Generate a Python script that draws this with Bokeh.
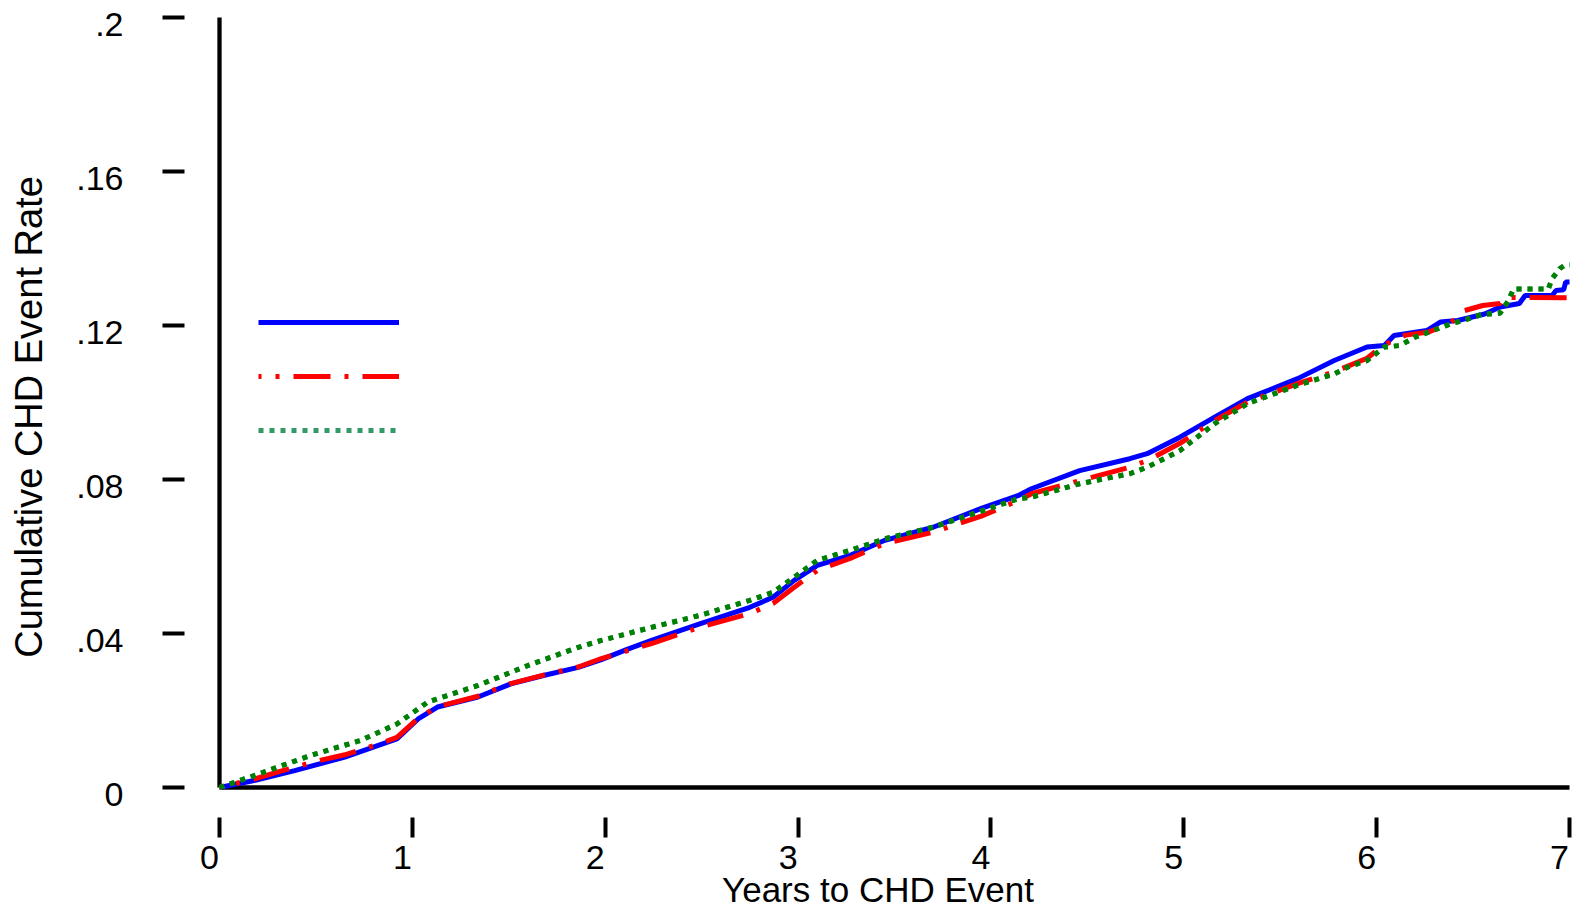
from bokeh.plotting import figure
from bokeh.models import (Range1d, LinearAxis, FixedTicker, CustomJSTickFormatter,
                          Legend, LegendItem)
from bokeh.embed import file_html
from bokeh.resources import INLINE

# ---------------- data ----------------
x_ticks = [0, 1, 2, 3, 4, 5, 6, 7]
x_labels = ["0", "1", "2", "3", "4", "5", "6", "7"]
y_ticks = [0, 0.04, 0.08, 0.12, 0.16, 0.2]
y_labels = ["0", ".04", ".08", ".12", ".16", ".2"]
x_title = "Years to CHD Event"
y_title = "Cumulative CHD Event Rate"

blue_t = [0, 0.18, 0.39, 0.65, 0.82, 0.92, 1.03, 1.13, 1.34, 1.51, 1.68, 1.86, 1.98,
          2.11, 2.24, 2.49, 2.75, 2.87, 2.98, 3.10, 3.27, 3.45, 3.70, 3.95, 4.14, 4.21,
          4.46, 4.72, 4.81, 4.98, 5.16, 5.33, 5.59, 5.78, 5.95, 6.04, 6.09, 6.26, 6.33,
          6.42, 6.56, 6.64, 6.74, 6.77, 6.91, 6.93, 6.97, 6.98, 7.0]
blue_v = [0, 0.0018, 0.0044, 0.0079, 0.0109, 0.0126, 0.0178, 0.0209, 0.0235, 0.0269,
          0.0291, 0.0312, 0.0332, 0.0358, 0.0382, 0.0425, 0.0468, 0.0494, 0.0538, 0.0577,
          0.0603, 0.0642, 0.0676, 0.0725, 0.0758, 0.0776, 0.0823, 0.0854, 0.0867, 0.0910,
          0.0962, 0.1010, 0.1062, 0.1109, 0.1144, 0.1148, 0.1174, 0.1187, 0.1209, 0.1213,
          0.1230, 0.1248, 0.1257, 0.1278, 0.1278, 0.1291, 0.1293, 0.1313, 0.1313]

red_t = [0, 0.18, 0.30, 0.50, 0.65, 0.82, 0.92, 1.03, 1.13, 1.34, 1.51, 1.68, 1.86, 1.98,
         2.24, 2.49, 2.75, 2.87, 2.98, 3.10, 3.27, 3.45, 3.70, 3.95, 4.14, 4.21, 4.46,
         4.72, 4.81, 4.98, 5.16, 5.33, 5.59, 5.78, 5.95, 6.04, 6.15, 6.27, 6.38, 6.42,
         6.45, 6.55, 6.64, 6.66, 7.0]
red_v = [0, 0.0022, 0.0040, 0.0068, 0.0085, 0.0112, 0.0130, 0.0180, 0.0210, 0.0237,
         0.0270, 0.0292, 0.0313, 0.0335, 0.0374, 0.0416, 0.0452, 0.0478, 0.0520, 0.0564,
         0.0595, 0.0634, 0.0663, 0.0705, 0.0745, 0.0763, 0.0797, 0.0832, 0.0849, 0.0894,
         0.0953, 0.1001, 0.1049, 0.1080, 0.1115, 0.1150, 0.1175, 0.1183, 0.1205, 0.1223,
         0.1238, 0.1252, 0.1257, 0.1273, 0.1272]

green_t = [0, 0.18, 0.47, 0.73, 0.92, 1.08, 1.34, 1.60, 1.86, 1.98, 2.11, 2.24, 2.49,
           2.75, 2.87, 2.98, 3.10, 3.27, 3.45, 3.70, 3.95, 4.14, 4.21, 4.46, 4.72, 4.81,
           4.98, 5.16, 5.33, 5.59, 5.78, 5.85, 5.95, 6.04, 6.12, 6.20, 6.39, 6.45, 6.54,
           6.64, 6.68, 6.71, 6.89, 6.91, 6.95, 6.98, 7.0]
green_v = [0, 0.0031, 0.0083, 0.0122, 0.0165, 0.0222, 0.0265, 0.0317, 0.0364, 0.0382,
           0.0399, 0.0416, 0.0447, 0.0486, 0.0507, 0.0546, 0.0590, 0.0616, 0.0646, 0.0676,
           0.0718, 0.0750, 0.0754, 0.0789, 0.0815, 0.0832, 0.0875, 0.0945, 0.0997, 0.1045,
           0.1074, 0.1092, 0.1109, 0.1144, 0.1148, 0.1170, 0.1205, 0.1213, 0.1228, 0.1232,
           0.1262, 0.1295, 0.1295, 0.1322, 0.1348, 0.1358, 0.1358]

# ---------------- layout geometry (pixels) ----------------
W, H = 1577, 912
frame_left, frame_right, frame_top, frame_bottom = 184, 1571, 16, 817
x0_px, px_per_year = 219, 192.86
y0_px, px_per_unit = 787, 3850.0

def dx(px):   # canvas x pixel -> data x
    return (px - x0_px) / px_per_year

def dy(py):   # canvas y pixel -> data y
    return (y0_px - py) / px_per_unit

x_start, x_end = dx(frame_left), dx(frame_right)
y_start, y_end = dy(frame_bottom), dy(frame_top)

lab_dx = 10 / px_per_year   # x labels sit 10 px left of their ticks
lab_dy = 7 / px_per_unit    # y labels sit 7 px below their ticks

FONT = "Liberation Sans"

p = figure(width=W, height=H, output_backend="svg", toolbar_location=None,
           x_range=Range1d(x_start, x_end), y_range=Range1d(y_start, y_end),
           x_axis_location=None, y_axis_location=None,
           min_border_left=frame_left, min_border_right=W - frame_right,
           min_border_top=frame_top, min_border_bottom=H - frame_bottom)
p.extra_x_ranges = {"lab": Range1d(x_start + lab_dx, x_end + lab_dx)}
p.extra_y_ranges = {"lab": Range1d(y_start + lab_dy, y_end + lab_dy)}
p.grid.visible = False
p.outline_line_color = None
p.background_fill_color = "white"
p.border_fill_color = "white"

def empty_fmt():
    return CustomJSTickFormatter(code="return ''")

def lab_fmt(tv, tl):
    return CustomJSTickFormatter(args=dict(tv=tv, tl=tl), code="""
        let k = -1;
        for (let j = 0; j < tv.length; j++) { if (Math.abs(tv[j] - tick) < 1e-9) { k = j; } }
        return k >= 0 ? tl[k] : '';
    """)

# tick-only axes (adjacent to frame)
tick_y = LinearAxis(ticker=FixedTicker(ticks=y_ticks), formatter=empty_fmt(),
                    major_tick_out=22, major_tick_in=0, major_tick_line_width=4,
                    minor_tick_out=0, minor_tick_in=0, axis_line_color=None,
                    major_label_text_font_size="0px", major_label_standoff=0)
p.add_layout(tick_y, "left")
tick_x = LinearAxis(ticker=FixedTicker(ticks=x_ticks), formatter=empty_fmt(),
                    major_tick_out=20, major_tick_in=0, major_tick_line_width=4,
                    minor_tick_out=0, minor_tick_in=0, axis_line_color=None,
                    major_label_text_font_size="0px", major_label_standoff=0)
p.add_layout(tick_x, "below")

# label axes (labels shifted a few px from their ticks, as in the reference)
lab_y = LinearAxis(y_range_name="lab", ticker=FixedTicker(ticks=y_ticks),
                   formatter=lab_fmt(y_ticks, y_labels),
                   major_tick_out=0, major_tick_in=0, minor_tick_out=0, minor_tick_in=0,
                   axis_line_color=None, major_label_standoff=39,
                   major_label_text_font=FONT, major_label_text_font_size="34px",
                   major_label_text_color="black",
                   axis_label=y_title, axis_label_text_font=FONT,
                   axis_label_text_font_size="38px", axis_label_text_font_style="normal",
                   axis_label_text_color="black", axis_label_standoff=23)
p.add_layout(lab_y, "left")
lab_x = LinearAxis(x_range_name="lab", ticker=FixedTicker(ticks=x_ticks),
                   formatter=lab_fmt(x_ticks, x_labels),
                   major_tick_out=0, major_tick_in=0, minor_tick_out=0, minor_tick_in=0,
                   axis_line_color=None, major_label_standoff=8,
                   major_label_text_font=FONT, major_label_text_font_size="34px",
                   major_label_text_color="black",
                   axis_label=x_title, axis_label_text_font=FONT,
                   axis_label_text_font_size="35px", axis_label_text_font_style="normal",
                   axis_label_text_color="black", axis_label_standoff=-2)
p.add_layout(lab_x, "below")

# axis lines through the origin
p.segment(x0=[x_ticks[0], x_ticks[0]], y0=[y_ticks[0], y_ticks[0]],
          x1=[x_ticks[-1], x_ticks[0]], y1=[y_ticks[0], y_ticks[-1]],
          line_color="black", line_width=4.3)

# curves (legend swatch of the third series is lighter; it hides under the real line)
rb = p.line(blue_t, blue_v, line_color="#0000FF", line_width=5)
rr = p.line(red_t, red_v, line_color="#FF0000", line_width=5,
            line_dash="37 14 4 14", line_dash_offset=34)
rg_leg = p.line(green_t, green_v, line_color="#339966", line_width=5, line_dash="5 6")
rg = p.line(green_t, green_v, line_color="#008000", line_width=5, line_dash="5 6")

legend = Legend(items=[LegendItem(label=" ", renderers=[rb]),
                       LegendItem(label=" ", renderers=[rr]),
                       LegendItem(label=" ", renderers=[rg_leg])],
                location=(74, 377), orientation="vertical",
                glyph_width=141, glyph_height=20, label_width=0, label_height=20,
                label_standoff=0, label_text_font_size="1px", spacing=34,
                padding=0, margin=0, border_line_color=None, background_fill_alpha=0)
p.add_layout(legend, "center")

open("out.html", "w").write(file_html(p, INLINE))
